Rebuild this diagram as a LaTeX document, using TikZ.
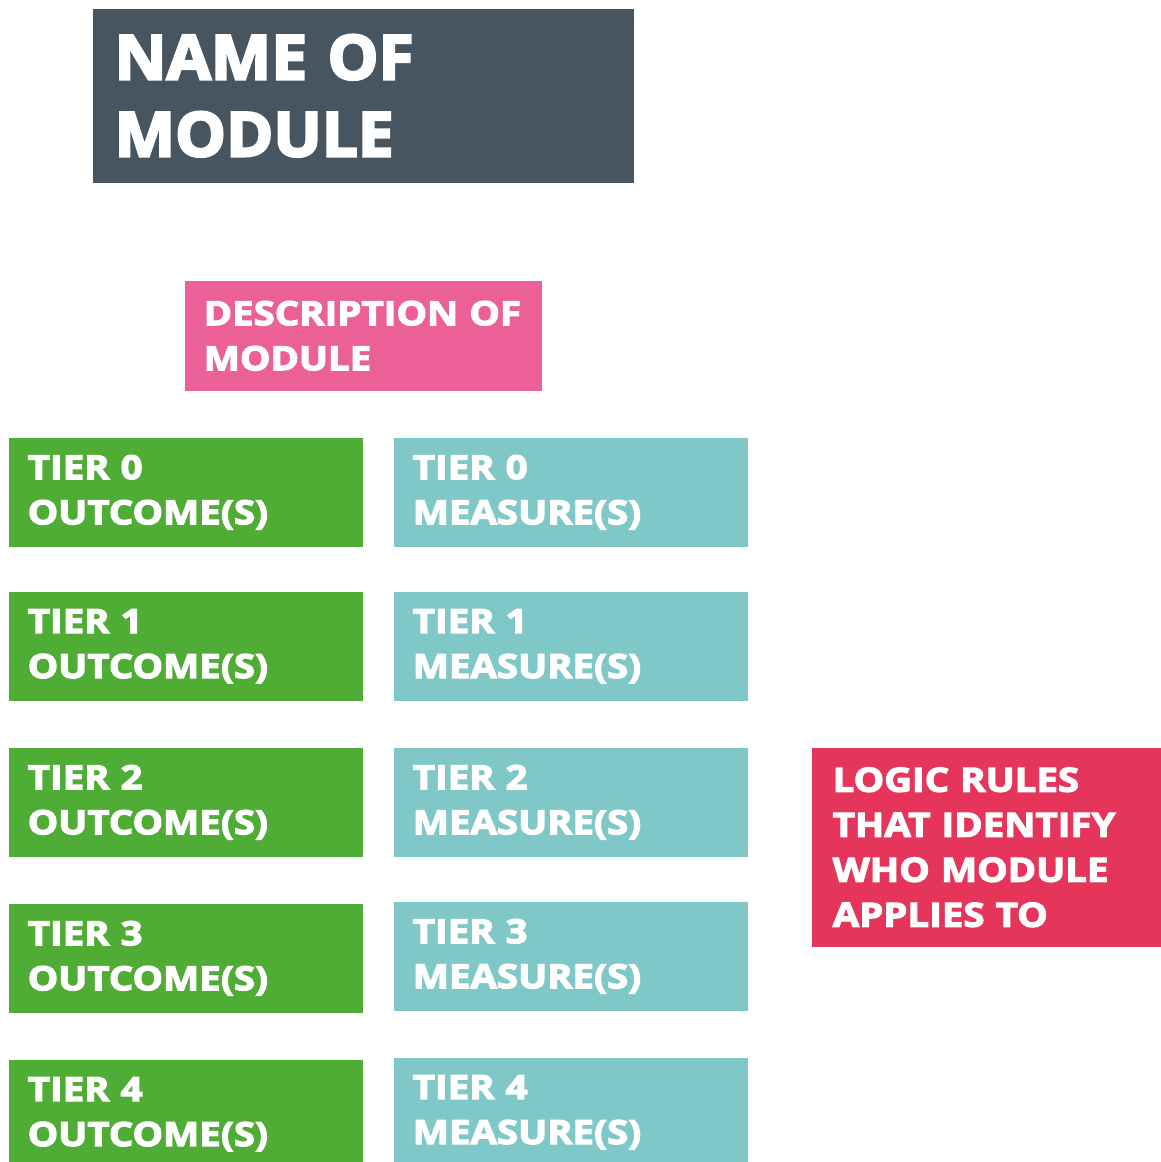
\documentclass[tikz,border=0pt]{standalone}
\usepackage{fontspec}
\newfontfamily\bigbase{Open Sans}[BoldFeatures={FakeBold=4,FakeStretch=1.04}]
\newfontfamily\smallbase{Open Sans}[BoldFeatures={FakeBold=3.5,FakeStretch=1.15}]
\newcommand{\bigheavy}{\bigbase\bfseries}
\newcommand{\smallheavy}{\smallbase\bfseries}
\definecolor{slate}{HTML}{465560}
\definecolor{rose}{HTML}{EC6098}
\definecolor{leaf}{HTML}{4FAC34}
\definecolor{aqua}{HTML}{80C8C8}
\definecolor{crimson}{HTML}{E6355A}
\tikzset{
  tile/.style={anchor=north west, inner ysep=0pt, align=left, text=white},
  bigtext/.style={font=\bigheavy\fontsize{17.5}{21.9}\selectfont},
  smalltext/.style={font=\smallheavy\fontsize{9.5}{12.8}\selectfont},
  outcome/.style={tile, smalltext, fill=leaf, inner xsep=0.19cm, text width=3.16cm, minimum height=1.09cm},
  measure/.style={tile, smalltext, fill=aqua, inner xsep=0.19cm, text width=3.16cm, minimum height=1.09cm},
}
\begin{document}
\begin{tikzpicture}[x=0.01cm,y=-0.01cm]
\useasboundingbox (0,0) rectangle (1161,1162);
\clip (0,0) rectangle (1161,1162);
% title and description
\node[tile, bigtext, fill=slate, inner xsep=0.22cm, text width=4.97cm, minimum height=1.74cm]
  (name) at (92,8) {NAME OF\\MODULE};
\node[tile, smalltext, fill=rose, inner xsep=0.19cm, text width=3.19cm, minimum height=1.10cm]
  (desc) at (184,280) {DESCRIPTION OF\\MODULE};
% tiers: outcomes on the left, measures on the right
\node[outcome] (out0) at (8,437)  {TIER 0\\OUTCOME(S)};
\node[outcome] (out1) at (8,591)  {TIER 1\\OUTCOME(S)};
\node[outcome] (out2) at (8,747)  {TIER 2\\OUTCOME(S)};
\node[outcome] (out3) at (8,903)  {TIER 3\\OUTCOME(S)};
\node[outcome] (out4) at (8,1059) {TIER 4\\OUTCOME(S)};
\node[measure] (mea0) at (393,437)  {TIER 0\\MEASURE(S)};
\node[measure] (mea1) at (393,591)  {TIER 1\\MEASURE(S)};
\node[measure] (mea2) at (393,747)  {TIER 2\\MEASURE(S)};
\node[measure] (mea3) at (393,901)  {TIER 3\\MEASURE(S)};
\node[measure] (mea4) at (393,1057) {TIER 4\\MEASURE(S)};
% applicability rules
\node[tile, smalltext, fill=crimson, inner xsep=0.21cm, text width=3.08cm, minimum height=1.99cm]
  (logic) at (811,747) {LOGIC RULES\\THAT IDENTIFY\\WHO MODULE\\APPLIES TO};
\end{tikzpicture}
\end{document}
